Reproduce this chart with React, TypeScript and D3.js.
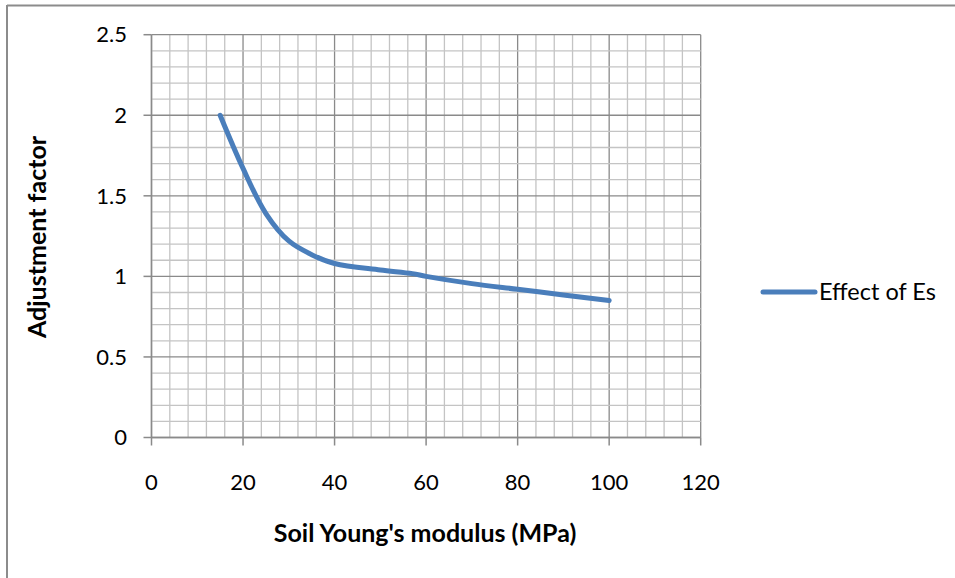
import React from "react";
import * as d3 from "d3";

const xValues = [15, 20, 25, 30, 35, 40, 50, 57, 60, 70, 80, 90, 100];
const yValues = [2.0, 1.67, 1.39, 1.22, 1.135, 1.08, 1.04, 1.017, 1.0, 0.955, 0.92, 0.885, 0.85];
const xTicks = [0, 20, 40, 60, 80, 100, 120];
const yTicks = [0, 0.5, 1, 1.5, 2, 2.5];
const seriesName = "Effect of Es";
const xTitle = "Soil Young's modulus (MPa)";
const yTitle = "Adjustment factor";

export default function App() {
  const W = 955, H = 578;
  const left = 151.5, right = 700.7, top = 34.7, bottom = 437.5;
  const x = d3.scaleLinear().domain([0, 120]).range([left, right]);
  const y = d3.scaleLinear().domain([0, 2.5]).range([bottom, top]);
  const minorX = d3.range(0, 120.001, 4);
  const minorY = d3.range(0, 2.5001, 0.1);
  const data = xValues.map((v, i) => [v, yValues[i]] as [number, number]);
  const line = d3.line<[number, number]>().x(d => x(d[0])).y(d => y(d[1])).curve(d3.curveCatmullRom.alpha(0.5));
  const font = "Lato, 'Open Sans', sans-serif";
  return (
    <svg width={W} height={H} style={{ position: "absolute", left: 0, top: 0, background: "#fff" }}>
      <rect x={0} y={0} width={W} height={H} fill="#fff" />
      <line x1={7} y1={5.5} x2={W} y2={5.5} stroke="#8c8c8c" strokeWidth={2} />
      <line x1={7} y1={5} x2={7} y2={H} stroke="#8c8c8c" strokeWidth={2} />
      {minorX.map((v, i) => (
        <line key={"mx" + i} x1={x(v)} x2={x(v)} y1={top} y2={bottom} stroke={i % 5 === 0 ? "#8a8a8a" : "#c4c4c4"} strokeWidth={1.3} />
      ))}
      {minorY.map((v, i) => (
        <line key={"my" + i} x1={left} x2={right} y1={y(v)} y2={y(v)} stroke={i % 5 === 0 ? "#8a8a8a" : "#c4c4c4"} strokeWidth={1.3} />
      ))}
      <line x1={left} x2={left} y1={top} y2={bottom} stroke="#8a8a8a" strokeWidth={1.5} />
      <line x1={left} x2={right} y1={bottom} y2={bottom} stroke="#8a8a8a" strokeWidth={1.5} />
      {yTicks.map(t => (
        <g key={"yt" + t}>
          <line x1={left - 8} x2={left} y1={y(t)} y2={y(t)} stroke="#8a8a8a" strokeWidth={1.5} />
          <text x={127} y={y(t)} dy="0.35em" textAnchor="end" fontFamily={font} fontSize={22} fill="#000">{String(t)}</text>
        </g>
      ))}
      {xTicks.map(t => (
        <g key={"xt" + t}>
          <line x1={x(t)} x2={x(t)} y1={bottom} y2={bottom + 8} stroke="#8a8a8a" strokeWidth={1.5} />
          <text x={x(t)} y={482} dy="0.35em" textAnchor="middle" fontFamily={font} fontSize={22} fill="#000">{String(t)}</text>
        </g>
      ))}
      <path d={line(data) || ""} fill="none" stroke="#4a7ebb" strokeWidth={5} strokeLinecap="round" strokeLinejoin="round" />
      <line x1={763} x2={815} y1={292} y2={292} stroke="#4a7ebb" strokeWidth={5} strokeLinecap="round" />
      <text x={819} y={292} dy="0.35em" fontFamily={font} fontSize={23.5} fill="#000">{seriesName}</text>
      <text x={425} y={533} dy="0.35em" textAnchor="middle" fontFamily={font} fontSize={25} fontWeight="bold" fill="#000">{xTitle}</text>
      <text transform={`translate(37,237) rotate(-90)`} dy="0.35em" textAnchor="middle" fontFamily={font} fontSize={25} fontWeight="bold" fill="#000">{yTitle}</text>
    </svg>
  );
}
